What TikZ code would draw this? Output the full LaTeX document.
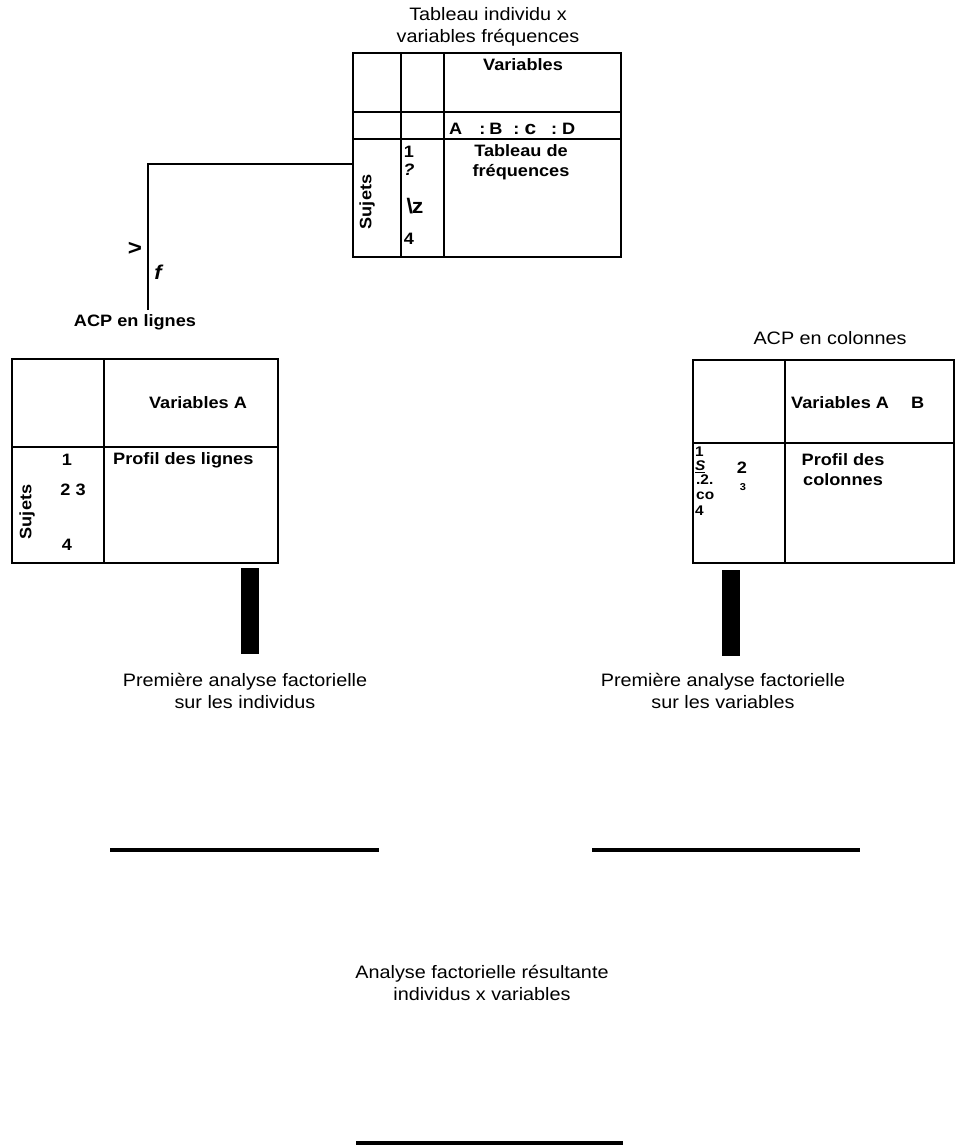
\documentclass[tikz,border=0pt]{standalone}
\usepackage{fontspec}
\setmainfont{Liberation Sans}[FakeStretch=1.1]
\begin{document}
\begin{tikzpicture}[x=1pt,y=-1pt,
  reg/.style={font=\fontsize{18}{22}\selectfont, inner sep=0pt, align=center},
  bld/.style={font=\fontsize{16.5}{20}\selectfont\bfseries, inner sep=0pt, align=center},
  sml/.style={font=\fontsize{14}{16}\selectfont\bfseries, inner sep=0pt},
  tbl/.style={draw, line width=1.6pt, inner sep=0pt, anchor=north west},
  grid/.style={line width=1.6pt},
  bar/.style={fill=black, inner sep=0pt, anchor=north west},
  rule/.style={line width=4pt}]
\path[use as bounding box, fill=white] (0,0) rectangle (955,1146);

% ---- top table
\node[reg] (ttitle) at (488,27) {Tableau individu x\\variables fréquences};
\node[tbl, minimum width=268pt, minimum height=204pt] (ttab) at (352,52) {};
\draw[grid] (401,52) -- (401,256) (444,52) -- (444,256);
\draw[grid] (352,112) -- (620,112) (352,139) -- (620,139);
\node[bld] (tvar) at (523,65) {Variables};
\node[bld, anchor=west] (tabcd) at (449,129) {A\hspace{17pt}:\kern4pt B\hspace{11pt}:\kern5pt{\fontsize{19}{20}\selectfont c}\hspace{15pt}:\kern5pt D};
\node[bld] (tfreq) at (521,162) {Tableau de\\fréquences};
\node[bld, rotate=90] (tsuj) at (367,202) {Sujets};
\node[bld] (t1) at (409,152) {1};
\node[bld] (tq) at (409,170) {\itshape ?};
\node[bld, font=\fontsize{21}{24}\selectfont\bfseries] (tz) at (415,206) {\textbackslash\kern-1pt z};
\node[bld] (t4) at (409,239) {4};

% ---- connector
\coordinate (c1) at (148,164);
\node[bld] (acpl) at (135,322) {ACP en lignes};
\coordinate (c2) at (148,310);
\draw[line width=1.6pt] (ttab.west |- c1) -- (c1) -- (c2);
\node[bld, font=\fontsize{22}{24}\selectfont\bfseries] (gt) at (135,249) {>};
\node[bld, font=\fontsize{20}{22}\selectfont\bfseries] (ff) at (158,272) {\itshape f};

% ---- left table
\node[tbl, minimum width=266pt, minimum height=204pt] (ltab) at (11,358) {};
\draw[grid] (104,358) -- (104,562) (11,447) -- (277,447);
\node[bld] (lvar) at (198,403) {Variables A};
\node[bld, anchor=west] (lprof) at (113,460) {Profil des lignes};
\node[bld, rotate=90] (lsuj) at (27,512) {Sujets};
\node[bld] (l1) at (67,460) {1};
\node[bld] (l23) at (73,490) {2 3};
\node[bld] (l4) at (67,545) {4};

% ---- right table
\node[reg] (acpc) at (830,338) {ACP en colonnes};
\node[tbl, minimum width=261pt, minimum height=203pt] (rtab) at (692,359) {};
\draw[grid] (785,359) -- (785,562) (692,443) -- (953,443);
\node[bld, anchor=west] (rvar) at (791,403) {Variables A\hspace{22pt}B};
\node[bld] (rprof) at (843,470) {Profil des\\colonnes};
\node[sml, anchor=west] (r1) at (695,452) {1};
\node[sml, anchor=west] (rs) at (695,466) {\itshape S};
\draw[line width=1pt] (rs.south west) ++(0,1.5) -- ++(10,0);
\node[bld] (r2) at (742,468) {2};
\node[sml, anchor=west] (rdot) at (696,480) {.2.};
\node[bld, font=\fontsize{10}{12}\selectfont\bfseries] (r3) at (743,487) {3};
\node[sml, anchor=west] (rco) at (696,496) {co};
\node[sml, anchor=west] (r4) at (695,511) {4};

% ---- bars and first analyses
\node[bar, minimum width=18pt, minimum height=86pt] (lbar) at (241,568) {};
\node[bar, minimum width=18pt, minimum height=86pt] (rbar) at (722,570) {};
\node[reg] (lana) at (245,691) {Première analyse factorielle\\sur les individus};
\node[reg] (rana) at (723,691) {Première analyse factorielle\\sur les variables};

\coordinate (hl1) at (110,850); \coordinate (hl2) at (379,850);
\coordinate (hr1) at (592,850); \coordinate (hr2) at (860,850);
\draw[rule] (hl1) -- (hl2);
\draw[rule] (hr1) -- (hr2);

\node[reg] (res) at (482,983) {Analyse factorielle résultante\\individus x variables};
\coordinate (hb1) at (356,1143); \coordinate (hb2) at (623,1143);
\draw[rule] (hb1) -- (hb2);
\end{tikzpicture}
\end{document}
